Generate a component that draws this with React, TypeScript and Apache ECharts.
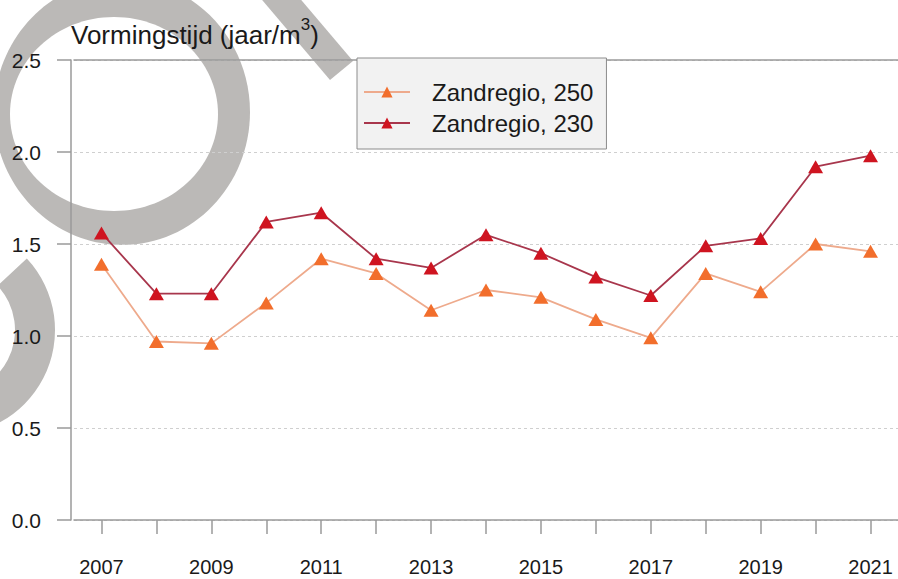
import React, { useEffect, useRef } from 'react';
import * as echarts from 'echarts';

const years = ['2007', '2008', '2009', '2010', '2011', '2012', '2013', '2014', '2015', '2016', '2017', '2018', '2019', '2020', '2021'];
const zandregio250 = [1.39, 0.97, 0.96, 1.18, 1.42, 1.34, 1.14, 1.25, 1.21, 1.09, 0.99, 1.34, 1.24, 1.50, 1.46];
const zandregio230 = [1.56, 1.23, 1.23, 1.62, 1.67, 1.42, 1.37, 1.55, 1.45, 1.32, 1.22, 1.49, 1.53, 1.92, 1.98];
const seriesNames = ['Zandregio, 250', 'Zandregio, 230'];
const yMin = 0;
const yMax = 2.5;
const yStep = 0.5;

const FONT = "'Liberation Sans', Arial, Helvetica, sans-serif";
const GREY_MARK = '#bbb9b7';
const AXIS_GREY = '#9a9a9a';

export default function App() {
  const ref = useRef<HTMLDivElement>(null);
  useEffect(() => {
    const chart = echarts.init(ref.current!, null, { renderer: 'svg' });
    chart.setOption({
      animation: false,
      backgroundColor: '#ffffff',
      textStyle: { fontFamily: FONT },
      title: {
        left: 66,
        top: 11,
        text: '{a|Vormingstijd (jaar/m}{s|3}{a|)}',
        textStyle: {
          fontWeight: 'normal',
          rich: {
            a: { fontSize: 26, lineHeight: 38, color: '#1a1a1a', fontFamily: FONT, fontWeight: 'normal' },
            s: { fontSize: 17, lineHeight: 17, color: '#1a1a1a', fontFamily: FONT, fontWeight: 'normal', verticalAlign: 'top' },
          },
        },
      },
      graphic: [
        {
          type: 'ellipse', z: -10, x: 122, y: 112,
          shape: { cx: 0, cy: 0, rx: 128, ry: 133 },
          style: { fill: GREY_MARK },
        },
        {
          type: 'ellipse', z: -10, x: 114, y: 114,
          shape: { cx: 0, cy: 0, rx: 104, ry: 97 },
          style: { fill: '#ffffff' },
        },
        {
          type: 'sector', z: -10,
          shape: { cx: -50, cy: 330, r0: 65, r: 105, startAngle: -0.75, endAngle: 1.7, clockwise: true },
          style: { fill: GREY_MARK },
        },
        {
          type: 'polygon', z: -10,
          shape: { points: [[246, -19], [269, -38], [353, 61], [330, 80]] },
          style: { fill: GREY_MARK },
        },
      ],
      legend: {
        orient: 'vertical',
        left: 357,
        top: 58,
        data: seriesNames,
        itemWidth: 46,
        itemHeight: 14,
        itemGap: 3,
        padding: [20, 13, 12, 6],
        backgroundColor: '#f2f2f2',
        borderColor: '#8c8c8c',
        borderWidth: 1,
        textStyle: { fontSize: 24, color: '#1a1a1a', fontFamily: FONT, lineHeight: 28, padding: [0, 0, 0, 17] },
      },
      grid: { left: 74, top: 60, width: 826, height: 460, containLabel: false },
      xAxis: [
        {
          type: 'category',
          data: years,
          boundaryGap: true,
          axisLine: { show: true, lineStyle: { color: AXIS_GREY, width: 1.5 } },
          axisTick: { show: true, alignWithLabel: true, interval: 0, length: 14, lineStyle: { color: AXIS_GREY, width: 1.5 } },
          axisLabel: { interval: 1, margin: 37, fontSize: 20, color: '#1a1a1a', fontFamily: FONT },
          splitLine: { show: false },
        },
        {
          type: 'category',
          data: years,
          position: 'top',
          axisLine: { show: true, lineStyle: { color: AXIS_GREY, width: 1.5 } },
          axisTick: { show: false },
          axisLabel: { show: false },
          splitLine: { show: false },
        },
      ],
      yAxis: {
        type: 'value',
        min: yMin,
        max: yMax,
        interval: yStep,
        offset: 3,
        axisLine: { show: true, lineStyle: { color: AXIS_GREY, width: 1.5 } },
        axisTick: { show: true, length: 14, lineStyle: { color: AXIS_GREY, width: 1.5 } },
        axisLabel: {
          margin: 30,
          fontSize: 21,
          color: '#1a1a1a',
          fontFamily: FONT,
          formatter: (v: number) => v.toFixed(1),
        },
        splitLine: { show: true, lineStyle: { color: '#cfcfcf', width: 1, type: [3, 3] } },
      },
      series: [
        {
          name: seriesNames[0],
          type: 'line',
          data: zandregio250,
          symbol: 'triangle',
          symbolSize: [15, 13],
          lineStyle: { color: '#eeaa8c', width: 1.8 },
          itemStyle: { color: '#f26e2c' },
          z: 3,
        },
        {
          name: seriesNames[1],
          type: 'line',
          data: zandregio230,
          symbol: 'triangle',
          symbolSize: [15, 13],
          lineStyle: { color: '#a8364c', width: 1.8 },
          itemStyle: { color: '#cf1420' },
          z: 4,
        },
      ],
    });
    return () => chart.dispose();
  }, []);
  return <div ref={ref} style={{ position: 'fixed', left: 0, top: 0, width: 898, height: 579 }} />;
}
